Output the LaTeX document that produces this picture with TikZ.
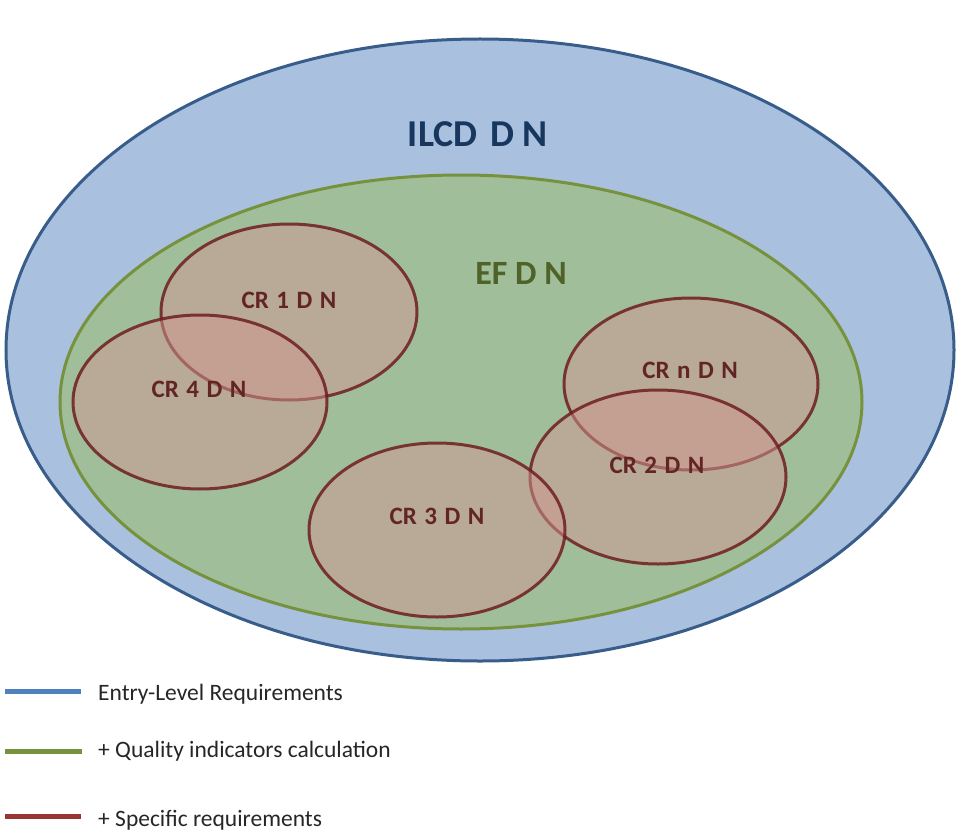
\documentclass[tikz,border=0pt]{standalone}
\usepackage{fontspec}
\setmainfont{Carlito}
\definecolor{outerfill}{RGB}{169,192,223}
\definecolor{outerdraw}{RGB}{56,93,138}
\definecolor{efdfill}{RGB}{161,190,155}
\definecolor{efdraw}{RGB}{118,146,60}
\definecolor{crfill}{RGB}{208,152,146}
\definecolor{crdraw}{RGB}{110,30,30}
\definecolor{ilcdtext}{RGB}{23,55,94}
\definecolor{eftext}{RGB}{79,98,40}
\definecolor{crtext}{RGB}{99,37,35}
\definecolor{legblue}{RGB}{79,129,189}
\definecolor{leggreen}{RGB}{118,146,60}
\definecolor{legred}{RGB}{150,55,52}
\newcommand{\crwide}{\spaceskip=0.3em\relax}
\tikzset{
  outerell/.style={fill=outerfill, draw=outerdraw, line width=3pt},
  efell/.style={fill=efdfill, draw=efdraw, line width=3pt},
  crell/.style={fill=crfill, fill opacity=0.5, draw=crdraw, draw opacity=0.85, line width=3pt},
  crlabel/.style={font=\fontsize{25}{30}\selectfont\bfseries, execute at begin node=\crwide, text=crtext, inner sep=0pt},
  legline/.style={line width=5pt},
  legtext/.style={font=\fontsize{23.5}{28}\selectfont, text=black!85, anchor=west, inner sep=0pt}
}
\begin{document}
\begin{tikzpicture}[x=1pt, y=-1pt]
\useasboundingbox (0,0) rectangle (956,832);
% outer and EF ellipses
\draw[outerell] (480,350) ellipse [x radius=474, y radius=311];
\draw[efell] (461,402) ellipse [x radius=401, y radius=227];
% CR ellipses
\draw[crell] (289,312) ellipse [x radius=128, y radius=88];
\draw[crell] (691,384) ellipse [x radius=127, y radius=86];
\draw[crell] (658,477) ellipse [x radius=128, y radius=87];
\draw[crell] (437,530) ellipse [x radius=128, y radius=87];
\draw[crell] (200,402) ellipse [x radius=127, y radius=87];
% labels
\node[font=\fontsize{38}{44}\selectfont\bfseries, text=ilcdtext, inner sep=0pt] (ilcd) at (478,134) {ILCD\,\,D N};
\node[font=\fontsize{34}{40}\selectfont\bfseries, text=eftext, inner sep=0pt] (ef) at (521,273) {EF D N};
\node[crlabel] (cr1) at (289,300) {CR 1 D N};
\node[crlabel] (cr4) at (199,389) {CR 4 D N};
\node[crlabel] (crn) at (690,370) {CR n D N};
\node[crlabel] (cr2) at (657,465) {CR 2 D N};
\node[crlabel] (cr3) at (437,516) {CR 3 D N};
% legend
\coordinate (lb1) at (5,691); \coordinate (lb2) at (81,691);
\coordinate (lg1) at (5,751); \coordinate (lg2) at (82,751);
\coordinate (lr1) at (5,816); \coordinate (lr2) at (81,816);
\draw[legline, legblue] (lb1) -- (lb2);
\draw[legline, leggreen] (lg1) -- (lg2);
\draw[legline, legred] (lr1) -- (lr2);
\node[legtext] (t1) at (98,694) {Entry-Level Requirements};
\node[legtext] (t2) at (98,751) {+ Quality indicators calculation};
\node[legtext] (t3) at (98,820) {+ Specific requirements};
\end{tikzpicture}
\end{document}
